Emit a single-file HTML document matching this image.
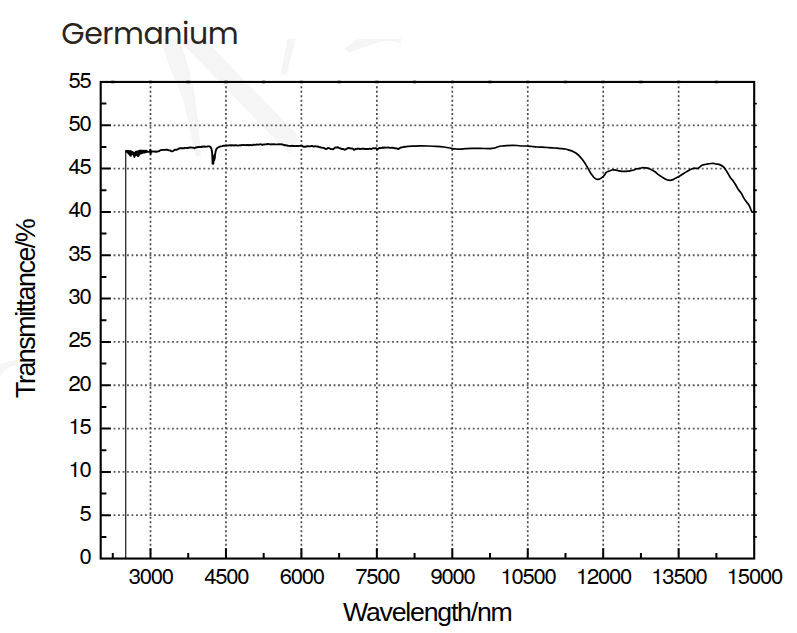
<!DOCTYPE html>
<html><head><meta charset="utf-8"><title>Germanium</title><style>
html,body{margin:0;padding:0;background:#fff;}
body{width:797px;height:633px;overflow:hidden;position:relative;}
svg{position:absolute;left:0;top:0;display:block;}
.t{font-family:"Liberation Sans",Arial,sans-serif;fill:#000;}
.title{position:absolute;left:61.3px;top:14.2px;font-family:"Poppins","DejaVu Sans",sans-serif;font-size:30px;letter-spacing:-0.45px;color:#2a241e;margin:0;font-weight:normal;line-height:40px;white-space:nowrap;}
</style></head><body>
<svg width="797" height="633" viewBox="0 0 797 633">
<g fill="#f5f5f5">
<polygon points="177.6,38.8 204.1,38.8 299.5,136.9 289.4,153.9"/>
<polygon points="160.3,38.8 179.4,38.8 187.6,64 194,90 198,120 201,155 198,157 195.3,155 183.3,100 168.6,64"/>
<polygon points="287.7,38.8 295.9,38.8 286.5,74.5 280.4,74.5"/>
<path d="M357.6 38.8 L401.5 38.8 L400.5 43.5 C392 40.5 383 40 374 43.8 C365 46.5 356 50 349 52.8 L344.4 48.9 Z"/>
<path d="M0 364 C5 362 10 361 17 360 L17 365 C11 366 5 368 0 377 Z"/>
</g>
<path d="M113.55 515.22H753.2 M113.55 471.9H753.2 M113.55 428.57H753.2 M113.55 385.24H753.2 M113.55 341.91H753.2 M113.55 298.59H753.2 M113.55 255.26H753.2 M113.55 211.93H753.2 M113.55 168.6H753.2 M113.55 125.28H753.2" fill="none" stroke="#5e5e5e" stroke-width="1.8" stroke-dasharray="1.9 2.59"/>
<path d="M150.5 86.2V557.55 M225.95 86.2V557.55 M301.4 86.2V557.55 M376.85 86.2V557.55 M452.3 86.2V557.55 M527.75 86.2V557.55 M603.2 86.2V557.55 M678.65 86.2V557.55" fill="none" stroke="#4a4a4a" stroke-width="1.7" stroke-dasharray="2.0 2.485"/>
<path d="M125.7 558.55V150.3" fill="none" stroke="#2a2a2a" stroke-width="1.3"/>
<path d="M126 150.2 L126.30 150.71 L126.60 151.70 L126.90 150.90 L127.20 152.34 L127.50 151.00 L127.80 152.81 L128.10 150.82 L128.40 153.11 L128.70 151.21 L129.00 153.91 L129.30 151.23 L129.60 154.50 L129.90 151.08 L130.20 155.48 L130.50 151.28 L130.80 155.79 L131.10 151.27 L131.40 154.31 L131.70 151.60 L132.00 153.81 L132.30 152.06 L132.60 153.46 L132.90 152.37 L133.20 154.66 L133.50 152.61 L133.80 155.67 L134.10 152.69 L134.40 156.95 L134.70 152.62 L135.00 155.75 L135.30 152.51 L135.60 155.15 L135.90 151.70 L136.20 154.38 L136.50 151.62 L136.80 154.82 L137.10 151.36 L137.40 155.48 L137.70 151.44 L138.00 156.09 L138.30 151.38 L138.60 155.65 L138.90 151.02 L139.20 154.67 L139.50 150.78 L139.80 153.91 L140.10 150.72 L140.40 153.60 L140.70 150.58 L141.00 153.49 L141.30 150.69 L141.60 153.21 L141.90 150.86 L142.20 153.11 L142.50 150.64 L142.80 152.87 L143.10 150.79 L143.40 152.46 L143.70 150.94 L144.00 152.21 L144.30 150.90 L144.60 152.48 L144.90 150.65 L145.20 152.40 L145.50 150.83 L145.80 152.25 L146.10 150.74 L146.40 152.02 L146.70 150.85 L147.00 151.50 L148.00 151.70 L149.00 151.92 L150.00 151.60 L150.30 149.60 L150.60 154.20 L151.00 151.60 L152.00 151.37 L153.00 151.50 L154.00 151.65 L155.00 151.50 L156.00 151.72 L157.00 151.70 L158.00 151.40 L159.00 151.20 L160.00 150.40 L161.00 150.14 L162.00 149.98 L163.00 149.90 L164.00 149.85 L165.00 149.93 L166.00 149.70 L167.00 149.61 L168.00 150.00 L169.00 150.35 L170.00 150.40 L171.00 151.08 L172.00 151.40 L173.00 151.07 L174.00 150.30 L175.00 149.77 L176.00 149.80 L177.00 149.77 L178.00 149.20 L179.00 148.50 L180.00 148.30 L181.00 148.14 L182.00 148.23 L183.00 148.10 L184.00 148.28 L185.00 147.87 L186.00 147.90 L187.00 148.09 L188.00 147.79 L189.00 147.70 L190.00 147.55 L191.00 147.52 L192.00 147.60 L193.25 147.71 L194.50 148.20 L195.75 147.50 L197.00 147.30 L198.00 146.92 L199.00 147.08 L200.00 146.80 L201.00 147.06 L202.00 146.53 L203.00 146.70 L204.00 146.40 L205.00 146.93 L206.00 146.60 L207.00 146.52 L208.00 146.34 L209.00 146.30 L210.50 146.80 L211.50 148.80 L212.00 152.00 L212.30 155.60 L212.60 163.60 L213.30 163.80 L213.80 158.50 L214.30 155.30 L215.00 156.30 L214.60 158.80 L214.30 160.00 L214.80 156.00 L215.50 152.00 L216.20 149.50 L217.20 148.00 L218.50 147.20 L220.00 146.70 L222.00 146.20 L223.00 145.90 L224.00 145.61 L225.00 145.69 L226.00 145.50 L227.00 145.67 L228.00 145.43 L229.00 145.39 L230.00 145.14 L231.00 145.64 L232.00 145.09 L233.00 145.34 L234.00 145.53 L235.00 145.30 L236.00 145.08 L237.00 145.44 L238.00 145.57 L239.00 145.38 L240.00 145.30 L241.00 145.43 L242.00 144.98 L243.00 145.14 L244.00 144.93 L245.00 145.10 L246.00 145.29 L247.00 144.94 L248.00 145.01 L249.00 145.32 L250.00 145.00 L251.00 145.16 L252.00 145.19 L253.00 144.82 L254.00 144.79 L255.00 144.89 L256.00 144.69 L257.00 144.52 L258.00 144.60 L259.00 144.50 L260.00 144.31 L261.00 144.41 L262.00 144.74 L263.00 144.69 L264.00 144.45 L265.00 144.34 L266.00 144.30 L267.00 144.19 L268.00 144.03 L269.00 144.13 L270.00 144.42 L271.00 144.46 L272.00 144.14 L273.00 144.38 L274.00 144.20 L275.00 144.38 L276.00 144.35 L277.00 144.34 L278.00 144.41 L279.00 144.19 L280.00 144.41 L281.00 144.30 L282.00 144.37 L283.00 144.69 L284.00 145.06 L285.00 145.21 L286.00 145.30 L287.00 145.35 L288.00 145.92 L289.00 145.91 L290.00 146.00 L291.00 146.05 L292.00 145.71 L293.00 146.03 L294.00 145.85 L295.00 146.10 L296.00 146.00 L297.00 145.90 L298.00 146.03 L299.00 145.85 L300.00 145.86 L301.00 145.60 L302.00 145.91 L303.00 146.49 L304.00 146.80 L305.00 146.74 L306.00 146.60 L307.00 146.20 L308.00 146.07 L309.00 146.33 L310.00 146.30 L311.00 146.15 L312.00 146.00 L313.00 146.39 L314.00 146.47 L315.00 146.31 L316.00 146.42 L317.00 146.50 L318.00 146.53 L319.00 147.17 L320.00 147.20 L321.00 147.66 L322.00 147.59 L323.00 147.91 L324.00 148.00 L325.00 148.63 L326.00 149.00 L327.00 148.64 L328.00 148.00 L329.00 148.10 L330.00 148.60 L331.00 149.00 L332.00 149.12 L333.00 149.30 L334.00 148.55 L335.00 147.60 L336.00 147.45 L337.00 147.47 L338.00 147.30 L339.00 147.90 L340.00 148.25 L341.00 148.60 L342.00 149.03 L343.00 148.92 L344.00 149.30 L345.00 149.80 L346.00 149.16 L347.00 148.69 L348.00 148.00 L349.00 147.99 L350.00 148.43 L351.00 148.56 L352.00 148.37 L353.00 148.80 L354.00 150.00 L355.00 149.43 L356.00 148.90 L357.00 148.76 L358.00 148.68 L359.00 148.76 L360.00 149.00 L361.00 148.89 L362.00 148.81 L363.00 148.82 L364.00 148.72 L365.00 148.98 L366.00 149.00 L367.00 148.88 L368.00 148.97 L369.00 148.90 L370.00 148.64 L371.00 148.99 L372.00 148.70 L373.00 148.28 L374.00 148.39 L375.00 148.19 L376.00 148.20 L377.00 149.40 L378.00 148.88 L379.00 148.24 L380.00 148.00 L381.00 148.13 L382.00 147.79 L383.00 147.52 L384.00 147.80 L385.00 147.42 L386.00 147.60 L387.00 147.63 L388.00 147.50 L389.00 147.65 L390.00 147.87 L391.00 147.79 L392.00 147.60 L393.00 147.73 L394.00 148.14 L395.00 148.21 L396.00 148.30 L397.25 148.62 L398.50 149.10 L399.75 148.09 L401.00 147.50 L402.00 147.32 L403.00 147.07 L404.00 146.80 L405.00 146.91 L406.00 146.75 L407.00 146.30" fill="none" stroke="#000" stroke-width="1.9" stroke-linejoin="round"/>
<path d="M407 146.3 C407.83 146.28 409.83 146.27 412.00 146.20 C414.17 146.13 417.33 145.93 420.00 145.90 C422.67 145.87 425.33 145.93 428.00 146.00 C430.67 146.07 433.33 146.13 436.00 146.30 C438.67 146.47 441.67 146.72 444.00 147.00 C446.33 147.28 448.58 147.72 450.00 148.00 C451.42 148.28 451.50 148.53 452.50 148.70 C453.50 148.87 454.75 148.92 456.00 149.00 C457.25 149.08 458.33 149.25 460.00 149.20 C461.67 149.15 464.00 148.83 466.00 148.70 C468.00 148.57 469.67 148.45 472.00 148.40 C474.33 148.35 477.00 148.37 480.00 148.40 C483.00 148.43 487.67 148.63 490.00 148.60 C492.33 148.57 492.67 148.50 494.00 148.20 C495.33 147.90 496.67 147.17 498.00 146.80 C499.33 146.43 500.50 146.20 502.00 146.00 C503.50 145.80 505.33 145.70 507.00 145.60 C508.67 145.50 510.33 145.42 512.00 145.40 C513.67 145.38 515.33 145.40 517.00 145.50 C518.67 145.60 520.33 145.92 522.00 146.00 C523.67 146.08 525.33 145.92 527.00 146.00 C528.67 146.08 530.33 146.33 532.00 146.50 C533.67 146.67 535.33 146.88 537.00 147.00 C538.67 147.12 540.33 147.12 542.00 147.20 C543.67 147.28 545.33 147.40 547.00 147.50 C548.67 147.60 550.33 147.68 552.00 147.80 C553.67 147.92 555.33 148.07 557.00 148.20 C558.67 148.33 560.67 148.47 562.00 148.60 C563.33 148.73 564.00 148.82 565.00 149.00 C566.00 149.18 567.00 149.43 568.00 149.70 C569.00 149.97 570.00 150.22 571.00 150.60 C572.00 150.98 573.08 151.52 574.00 152.00 C574.92 152.48 575.67 152.88 576.50 153.50 C577.33 154.12 578.17 154.87 579.00 155.70 C579.83 156.53 580.67 157.50 581.50 158.50 C582.33 159.50 583.25 160.63 584.00 161.70 C584.75 162.77 585.33 163.80 586.00 164.90 C586.67 166.00 587.33 167.12 588.00 168.30 C588.67 169.48 589.33 170.88 590.00 172.00 C590.67 173.12 591.33 174.08 592.00 175.00 C592.67 175.92 593.33 176.83 594.00 177.50 C594.67 178.17 595.25 178.70 596.00 179.00 C596.75 179.30 597.67 179.43 598.50 179.30 C599.33 179.17 600.17 178.70 601.00 178.20 C601.83 177.70 602.67 177.22 603.50 176.30 C604.33 175.38 605.25 173.48 606.00 172.70 C606.75 171.92 607.33 171.92 608.00 171.60 C608.67 171.28 609.33 171.07 610.00 170.80 C610.67 170.53 611.42 170.15 612.00 170.00 C612.58 169.85 612.83 169.88 613.50 169.90 C614.17 169.92 615.08 169.93 616.00 170.10 C616.92 170.27 618.00 170.68 619.00 170.90 C620.00 171.12 621.00 171.32 622.00 171.40 C623.00 171.48 624.00 171.43 625.00 171.40 C626.00 171.37 627.00 171.33 628.00 171.20 C629.00 171.07 630.00 170.80 631.00 170.60 C632.00 170.40 633.17 170.27 634.00 170.00 C634.83 169.73 635.00 169.28 636.00 169.00 C637.00 168.72 638.92 168.53 640.00 168.30 C641.08 168.07 641.67 167.68 642.50 167.60 C643.33 167.52 643.92 167.65 645.00 167.80 C646.08 167.95 647.83 168.12 649.00 168.50 C650.17 168.88 651.00 169.55 652.00 170.10 C653.00 170.65 654.00 171.10 655.00 171.80 C656.00 172.50 657.00 173.53 658.00 174.30 C659.00 175.07 660.00 175.73 661.00 176.40 C662.00 177.07 663.00 177.73 664.00 178.30 C665.00 178.87 666.00 179.47 667.00 179.80 C668.00 180.13 669.00 180.33 670.00 180.30 C671.00 180.27 672.00 180.00 673.00 179.60 C674.00 179.20 675.17 178.33 676.00 177.90 C676.83 177.47 677.17 177.45 678.00 177.00 C678.83 176.55 680.00 175.83 681.00 175.20 C682.00 174.57 683.00 173.83 684.00 173.20 C685.00 172.57 686.00 171.97 687.00 171.40 C688.00 170.83 689.00 170.28 690.00 169.80 C691.00 169.32 692.25 168.77 693.00 168.50 C693.75 168.23 693.83 168.22 694.50 168.20 C695.17 168.18 696.33 168.40 697.00 168.40 C697.67 168.40 698.00 168.47 698.50 168.20 C699.00 167.93 699.33 167.33 700.00 166.80 C700.67 166.27 701.67 165.38 702.50 165.00 C703.33 164.62 704.08 164.68 705.00 164.50 C705.92 164.32 707.00 164.07 708.00 163.90 C709.00 163.73 710.00 163.57 711.00 163.50 C712.00 163.43 713.17 163.42 714.00 163.50 C714.83 163.58 715.17 163.85 716.00 164.00 C716.83 164.15 717.83 163.98 719.00 164.40 C720.17 164.82 721.92 165.65 723.00 166.50 C724.08 167.35 724.67 168.33 725.50 169.50 C726.33 170.67 727.08 172.00 728.00 173.50 C728.92 175.00 730.17 177.30 731.00 178.50 C731.83 179.70 732.25 179.70 733.00 180.70 C733.75 181.70 734.67 183.12 735.50 184.50 C736.33 185.88 737.03 187.53 738.00 189.00 C738.97 190.47 740.37 191.87 741.30 193.30 C742.23 194.73 742.82 196.27 743.60 197.60 C744.38 198.93 745.17 200.15 746.00 201.30 C746.83 202.45 747.93 203.48 748.60 204.50 C749.27 205.52 749.60 206.48 750.00 207.40 C750.40 208.32 750.67 209.27 751.00 210.00 C751.33 210.73 751.58 211.42 752.00 211.80 C752.42 212.18 753.12 212.18 753.50 212.30 C753.88 212.42 754.17 212.47 754.30 212.50" fill="none" stroke="#000" stroke-width="1.7" stroke-linejoin="round"/>
<path d="M100.7 515.22h10.2 M100.7 471.9h10.2 M100.7 428.57h10.2 M100.7 385.24h10.2 M100.7 341.91h10.2 M100.7 298.59h10.2 M100.7 255.26h10.2 M100.7 211.93h10.2 M100.7 168.6h10.2 M100.7 125.28h10.2 M100.7 536.89h5.7 M100.7 493.56h5.7 M100.7 450.23h5.7 M100.7 406.9h5.7 M100.7 363.58h5.7 M100.7 320.25h5.7 M100.7 276.92h5.7 M100.7 233.6h5.7 M100.7 190.27h5.7 M100.7 146.94h5.7 M100.7 103.61h5.7 M150.5 558.55v-10.3 M225.95 558.55v-10.3 M301.4 558.55v-10.3 M376.85 558.55v-10.3 M452.3 558.55v-10.3 M527.75 558.55v-10.3 M603.2 558.55v-10.3 M678.65 558.55v-10.3 M112.78 558.55v-5.6 M188.22 558.55v-5.6 M263.68 558.55v-5.6 M339.12 558.55v-5.6 M414.57 558.55v-5.6 M490.02 558.55v-5.6 M565.48 558.55v-5.6 M640.92 558.55v-5.6 M716.38 558.55v-5.6" fill="none" stroke="#000" stroke-width="2"/>
<path d="M754.2 536.89h1.9 M754.2 515.22h1.9 M754.2 493.56h1.9 M754.2 471.9h1.9 M754.2 450.23h1.9 M754.2 428.57h1.9 M754.2 406.9h1.9 M754.2 385.24h1.9 M754.2 363.58h1.9 M754.2 341.91h1.9 M754.2 320.25h1.9 M754.2 298.59h1.9 M754.2 276.92h1.9 M754.2 255.26h1.9 M754.2 233.6h1.9 M754.2 211.93h1.9 M754.2 190.27h1.9 M754.2 168.6h1.9 M754.2 146.94h1.9 M754.2 125.28h1.9 M754.2 103.61h1.9" fill="none" stroke="#000" stroke-width="1.8" stroke-linecap="round"/>
<path d="M111.58 81.95h2.4 M149.3 81.95h2.4 M187.03 81.95h2.4 M224.75 81.95h2.4 M262.48 81.95h2.4 M300.2 81.95h2.4 M337.93 81.95h2.4 M375.65 81.95h2.4 M413.38 81.95h2.4 M451.1 81.95h2.4 M488.82 81.95h2.4 M526.55 81.95h2.4 M564.27 81.95h2.4 M602.0 81.95h2.4 M639.72 81.95h2.4 M677.45 81.95h2.4 M715.17 81.95h2.4" fill="none" stroke="#000" stroke-width="2.4" stroke-linecap="round"/>
<rect x="100.7" y="81.95" width="653.5" height="476.6" fill="none" stroke="#000" stroke-width="2.1"/>
<g class="t" font-size="22" letter-spacing="-1.2" style="font-family:&quot;TeX Gyre Heros&quot;,&quot;Liberation Sans&quot;,Arial,sans-serif"><text x="90.5" y="564.0" text-anchor="end">0</text><text x="90.5" y="520.7" text-anchor="end">5</text><text x="90.5" y="477.4" text-anchor="end">10</text><text x="90.5" y="434.1" text-anchor="end">15</text><text x="90.5" y="390.7" text-anchor="end">20</text><text x="90.5" y="347.4" text-anchor="end">25</text><text x="90.5" y="304.1" text-anchor="end">30</text><text x="90.5" y="260.8" text-anchor="end">35</text><text x="90.5" y="217.4" text-anchor="end">40</text><text x="90.5" y="174.1" text-anchor="end">45</text><text x="90.5" y="130.8" text-anchor="end">50</text><text x="90.5" y="87.5" text-anchor="end">55</text><text x="150.8" y="584" text-anchor="middle">3000</text><text x="226.2" y="584" text-anchor="middle">4500</text><text x="301.7" y="584" text-anchor="middle">6000</text><text x="377.2" y="584" text-anchor="middle">7500</text><text x="452.6" y="584" text-anchor="middle">9000</text><text x="528.0" y="584" text-anchor="middle">10500</text><text x="603.5" y="584" text-anchor="middle">12000</text><text x="678.9" y="584" text-anchor="middle">13500</text><text x="754.4" y="584" text-anchor="middle">15000</text></g>
<text class="t" x="343" y="621" font-size="26.7" letter-spacing="-1.22">Wavelength/nm</text>
<text class="t" transform="translate(35.2 398) rotate(-90)" font-size="26.9" letter-spacing="-1.5">Transmittance/%</text>
</svg>
<h1 class="title">Germanium</h1>
</body></html>
